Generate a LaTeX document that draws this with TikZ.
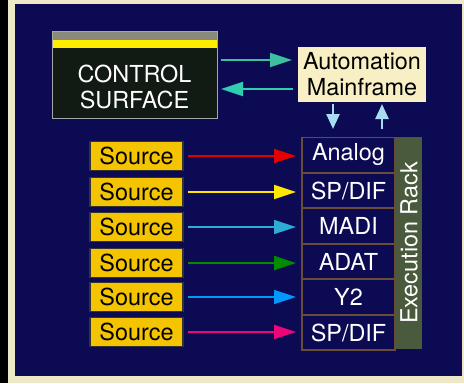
\documentclass[tikz,border=0pt]{standalone}
\usepackage{fontspec}
\setmainfont{TeX Gyre Heros}
\usetikzlibrary{arrows.meta}
\definecolor{navy}{HTML}{0B0A52}
\definecolor{cream}{HTML}{EDE8C8}
\definecolor{srcyel}{HTML}{F5C400}
\definecolor{amcream}{HTML}{F8F0C4}
\definecolor{teal}{HTML}{3CC0A0}
\definecolor{ltblue}{HTML}{A8DCF0}
\definecolor{cellline}{HTML}{6A4A38}
\definecolor{olive}{HTML}{4A5A3C}
\definecolor{csdark}{HTML}{121A14}
\definecolor{csgray}{HTML}{8A8A7A}
\tikzset{
  txt/.style={font=\fontsize{23.5}{25}\selectfont, inner sep=0pt},
  srcbox/.style={txt, draw=black!80, line width=1.2bp, fill=srcyel, minimum width=93bp, minimum height=29bp, text=black},
  cell/.style={txt, draw=cellline, line width=1.5bp, fill=navy, minimum width=93bp, minimum height=35bp, text=white},
  conn/.style={line width=2.2bp, -{Triangle[length=22bp, width=14bp]}},
  vconn/.style={line width=2.5bp, ltblue, -{Triangle[length=15bp, width=13bp]}}
}
\begin{document}
\begin{tikzpicture}[x=1bp, y=-1bp]
\useasboundingbox (0,0) rectangle (464,383);
\fill[cream] (0,0) rectangle (464,383);
\fill[black] (0,0) rectangle (8,383);
\fill[navy] (15,4) rectangle (462,376);
% control surface
\fill[csdark] (52,31) rectangle (217,118);
\fill[csgray] (52,31) rectangle (217,40);
\fill[yellow!95!orange] (52,40) rectangle (217,48);
\draw[gray!70, line width=0.8bp] (52,31) rectangle (217,118);
\node[txt, text=white, align=center, font=\fontsize{23.5}{26}\selectfont] (cs) at (134.5,87) {CONTROL\\SURFACE};
\coordinate (csR1) at (221,60);
\coordinate (csR2) at (221,89);
% automation mainframe
\node[txt, fill=amcream, minimum width=128bp, minimum height=55bp, align=center, font=\fontsize{23.5}{26}\selectfont] (am) at (362,74.5) {Automation\\Mainframe};
\coordinate (amL1) at (292,60);
\coordinate (amL2) at (293,89);
\draw[conn, teal] (csR1) -- (amL1);
\draw[conn, teal!80!cyan] (amL2) -- (csR2);
% execution rack
\fill[olive] (395,137) rectangle (422,349);
\node[txt, text=white, rotate=90] (rack) at (409,243) {Execution Rack};
\foreach \i/\lab/\y in {1/Analog/155, 2/SP\slash DIF/190.5, 3/MADI/226, 4/ADAT/261.5, 5/Y2/297, 6/SP\slash DIF/332.5}{
  \node[cell] (c\i) at (348.5,\y) {\lab};
}
\coordinate (d1) at (333,104);
\coordinate (d2) at (333,129);
\coordinate (u1) at (382,129);
\coordinate (u2) at (382,104);
\draw[vconn] (d1) -- (d2);
\draw[vconn] (u1) -- (u2);
% sources
\foreach \i/\y in {1/156, 2/192, 3/227, 4/263, 5/297, 6/332}{
  \node[srcbox] (s\i) at (136.5,\y) {Source};
  \coordinate (t\i) at (296,\y);
}
\draw[conn, red!90!black] (s1.east) ++(4,0) -- (t1);
\draw[conn, yellow!90!orange] (s2.east) ++(4,0) -- (t2);
\draw[conn, cyan!60!teal, line width=1.5bp] (s3.east) ++(4,0) -- (t3);
\draw[conn, green!55!black] (s4.east) ++(4,0) -- (t4);
\draw[conn, blue!40!cyan, line width=1.5bp] (s5.east) ++(4,0) -- (t5);
\draw[conn, magenta!80!red] (s6.east) ++(4,0) -- (t6);
\end{tikzpicture}
\end{document}
